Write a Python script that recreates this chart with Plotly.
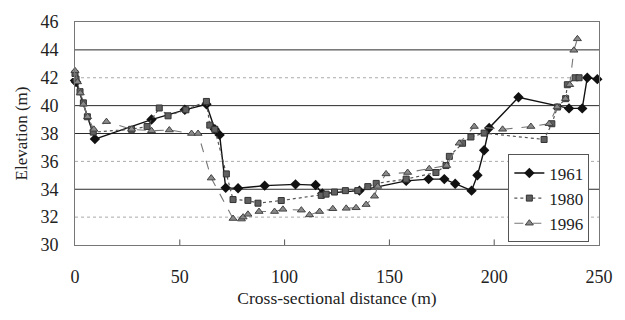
import plotly.graph_objects as go

# ---- data ----
x_1961 = [0, 0.5, 9.5, 36.5, 52.4, 62.7, 66.7, 69, 71.9, 77.8, 90.5, 105.2, 114.8, 118,
          135.7, 158, 168.7, 176.2, 181.4, 189.2, 192, 195.2, 197.6, 211.6, 235.7, 242,
          244.4, 249.2]
y_1961 = [41.8, 41.7, 37.6, 39.0, 39.7, 40.1, 38.3, 37.9, 34.1, 34.07, 34.26, 34.35, 34.3, 33.7,
          33.9, 34.6, 34.73, 34.73, 34.4, 33.9, 35.0, 36.8, 38.4, 40.6, 39.8, 39.8,
          42.0, 41.9]

x_1980 = [0, 0.5, 2.4, 4, 5.9, 8.7, 27, 34.4, 40.2, 44.4, 52.9, 62.7, 64.3, 66.7, 72.2,
          75.4, 82.5, 87.3, 98.4, 117.5, 119.8, 123.8, 129, 134.9, 139.7, 143.7, 158,
          172.2, 177, 178.6, 184.9, 188.9, 195.2, 223.8, 227.5, 230.2, 234.1, 234.9,
          238.6, 240.5]
y_1980 = [42.3, 41.9, 41.0, 40.2, 39.2, 38.1, 38.3, 38.5, 39.83, 39.27, 39.7, 40.3, 38.6, 38.3, 35.1,
          33.26, 33.2, 33.0, 33.19, 33.56, 33.65, 33.8, 33.9, 33.9, 34.19, 34.42, 34.73,
          35.2, 35.7, 36.36, 37.3, 37.75, 38.03, 37.57, 38.7, 39.9, 40.5, 41.5,
          42.0, 42.0]

x_1996 = [0, 1.2, 2.5, 4, 6, 9, 15, 27, 36.5, 45, 55.6, 58.7, 65, 75.4, 79.4, 80.2, 82.5,
          87.8, 95.2, 99.2, 108, 111.9, 116.7, 123, 129.4, 134.1, 138.9, 142.9, 144.4,
          148.4, 158.7, 169, 177.3, 183.3, 190.5, 204, 217.5, 226.2, 230, 234, 236, 238,
          239.7]
y_1996 = [42.5, 41.7, 40.9, 40.1, 39.2, 38.3, 38.85, 38.3, 38.2, 38.25, 38.0, 38.0, 34.8, 31.9, 31.86, 32.0, 32.2,
          32.4, 32.4, 32.56, 32.5, 32.16, 32.4, 32.6, 32.63, 32.67, 32.9, 33.5, 34.2,
          35.1, 35.2, 35.47, 35.7, 37.3, 38.5, 38.3, 38.5, 38.7, 39.9, 40.5, 41.5, 43.97,
          44.79]

x_ticks = [0, 50, 100, 150, 200, 250]
y_ticks = [30, 32, 34, 36, 38, 40, 42, 44, 46]
strong_grid = [34, 38, 40, 44]

FONT = "Liberation Serif"

fig = go.Figure()
fig.add_trace(go.Scatter(
    x=x_1961, y=y_1961, name="1961", mode="lines+markers",
    line=dict(color="#111111", width=1.4),
    marker=dict(symbol="diamond", size=8, color="#111111"),
    cliponaxis=False))
fig.add_trace(go.Scatter(
    x=x_1980, y=y_1980, name="1980", mode="lines+markers",
    line=dict(color="#555555", width=1.2, dash="dot"),
    marker=dict(symbol="square", size=6, color="#606060",
                line=dict(color="#333333", width=1)),
    cliponaxis=False))
fig.add_trace(go.Scatter(
    x=x_1996, y=y_1996, name="1996", mode="lines+markers",
    line=dict(color="#777777", width=1.1, dash="dash"),
    marker=dict(symbol="triangle-up", size=7, color="#8a8a8a",
                line=dict(color="#444444", width=1)),
    cliponaxis=False))

shapes = []
for v in y_ticks[1:-1]:
    if v in strong_grid:
        shapes.append(dict(type="line", xref="paper", yref="y", x0=0, x1=1, y0=v, y1=v,
                           line=dict(color="#2a2a2a", width=1), layer="below"))
    else:
        shapes.append(dict(type="line", xref="paper", yref="y", x0=0, x1=1, y0=v, y1=v,
                           line=dict(color="#aaaaaa", width=1, dash="dot"), layer="below"))
# small inside tick marks on the x axis
for t in x_ticks[1:-1]:
    shapes.append(dict(type="line", xref="x", yref="paper", x0=t, x1=t, y0=0, y1=0.025,
                       line=dict(color="#555555", width=1)))

fig.update_layout(
    width=625, height=320,
    margin=dict(l=75, r=24, t=16, b=75),
    paper_bgcolor="white", plot_bgcolor="white",
    font=dict(family=FONT, size=17, color="#222222"),
    shapes=shapes,
    showlegend=True,
    legend=dict(x=0.827, y=0.406, xanchor="left", yanchor="top",
                bgcolor="white", bordercolor="#555555", borderwidth=1,
                font=dict(family=FONT, size=17, color="#222222")),
    xaxis=dict(range=[0, 250], tickvals=x_ticks, ticktext=[str(t) for t in x_ticks],
               showgrid=False, zeroline=False, showline=True, linecolor="#777777",
               linewidth=1, mirror=True, ticks="outside", ticklen=15, tickcolor="white",
               tickfont=dict(family=FONT, size=18),
               title=dict(text="Cross-sectional distance (m)", standoff=6,
                          font=dict(family=FONT, size=17.5))),
    yaxis=dict(range=[30, 46], tickvals=y_ticks, ticktext=[str(t) for t in y_ticks],
               showgrid=False, zeroline=False, showline=True, linecolor="#777777",
               linewidth=1, mirror=True, ticks="outside", ticklen=12, tickcolor="white",
               tickfont=dict(family=FONT, size=18),
               title=dict(text="Elevation (m)", standoff=8,
                          font=dict(family=FONT, size=17))),
)

fig.write_html("out.html")
